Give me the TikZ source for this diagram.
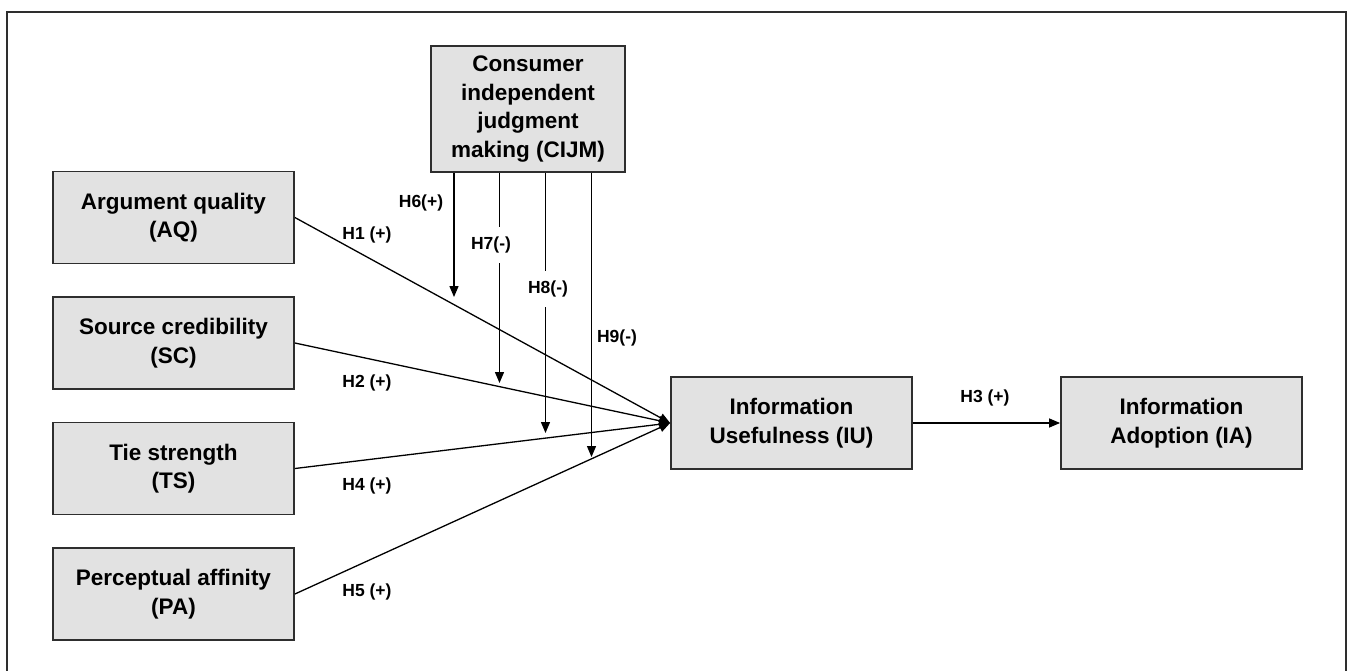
\documentclass[tikz,border=0pt]{standalone}
\usepackage{fontspec}
\setmainfont{Liberation Sans}
\usetikzlibrary{arrows.meta}
\definecolor{boxfill}{HTML}{E2E2E2}
\definecolor{edge}{HTML}{2E2E2E}
\begin{document}
\begin{tikzpicture}[x=1pt,y=-1pt,
  construct/.style={draw=edge,line width=1.8pt,fill=boxfill,align=center,
    minimum width=241pt,minimum height=92pt,inner sep=0pt,
    font=\bfseries\fontsize{22.5}{28.5}\selectfont},
  link/.style={line width=1.3pt,-{Triangle[length=11pt,width=9pt]}},
  hyp/.style={font=\bfseries\fontsize{17.5}{20}\selectfont,inner sep=1pt},
  hypgap/.style={hyp,fill=white,inner xsep=1pt,inner ysep=10pt}]
\useasboundingbox (0,0) rectangle (1349,670);
\begin{scope}
\clip (0,0) rectangle (1349,670);
\draw[edge,line width=1.8pt] (7,12) rectangle (1346,700);
\end{scope}

% constructs
\node[construct,minimum width=194pt,minimum height=126pt] (cijm) at (528,109)
  {Consumer\\independent\\judgment\\making (CIJM)};
\node[construct] (aq) at (173.5,217.5) {Argument quality\\(AQ)};
\node[construct] (sc) at (173.5,343) {Source credibility\\(SC)};
\node[construct] (ts) at (173.5,468.5) {Tie strength\\(TS)};
\node[construct] (pa) at (173.5,594) {Perceptual affinity\\(PA)};
\node[construct] (iu) at (791.5,423) {Information\\Usefulness (IU)};
\node[construct] (ia) at (1181.5,423) {Information\\Adoption (IA)};

% direct effects
\draw[link] (aq.east) -- (iu.west);
\draw[link] (sc.east) -- (iu.west);
\draw[link] (ts.east) -- (iu.west);
\draw[link] (pa.east) -- (iu.west);
\draw[link] (iu.east) -- (ia.west);

% moderating effects
\coordinate (m6) at (454,297);
\coordinate (m7) at (499.5,383);
\coordinate (m8) at (545.5,433);
\coordinate (m9) at (591.5,457);
\draw[link] (cijm.south -| m6) -- (m6);
\draw[link] (cijm.south -| m7) -- (m7);
\draw[link] (cijm.south -| m8) -- (m8);
\draw[link] (cijm.south -| m9) -- (m9);

% hypothesis labels
\node[hyp] (h1) at (367,235) {H1 (+)};
\node[hyp] (h2) at (367,383) {H2 (+)};
\node[hyp] (h4) at (367,486) {H4 (+)};
\node[hyp] (h5) at (367,592) {H5 (+)};
\node[hyp] (h3) at (985,398) {H3 (+)};
\node[hyp] (h6) at (421,203) {H6(+)};
\node[hypgap] (h7) at (491,245) {H7(-)};
\node[hypgap] (h8) at (548,289) {H8(-)};
\node[hyp] (h9) at (617,338) {H9(-)};
\end{tikzpicture}
\end{document}
